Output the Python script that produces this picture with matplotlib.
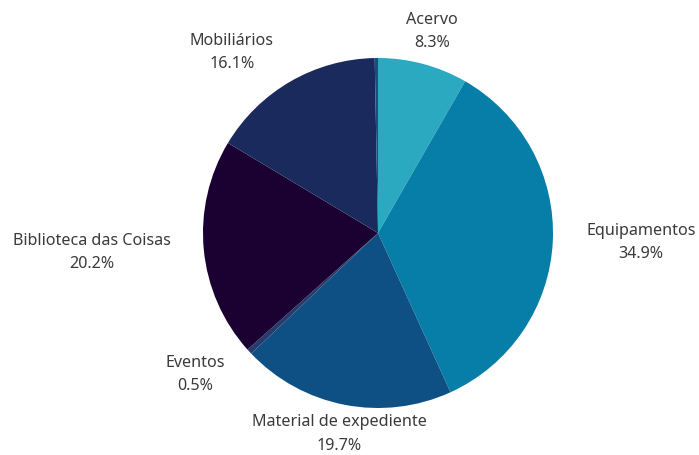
import numpy as np
import matplotlib
matplotlib.use("Agg")
import matplotlib.pyplot as plt

plt.rcParams['font.family'] = ['Noto Sans', 'DejaVu Sans']

labels = ["Acervo", "Equipamentos", "Material de expediente", "Eventos",
          "Biblioteca das Coisas", "Mobiliários", ""]
values = [8.3, 34.9, 19.7, 0.5, 20.2, 16.1, 0.3]
colors = ["#2ba9c0", "#077ea8", "#0e5083", "#263a6c", "#1b0032", "#1b2a5c", "#1f4a7e"]

fig = plt.figure(figsize=(6.99, 4.55), dpi=100)
ax = fig.add_axes([0, 0, 1, 1])
R = 175.0
cx, cy = 378, 233

wedges, _ = ax.pie(values, colors=colors, startangle=90, counterclock=False,
                   radius=1, wedgeprops=dict(linewidth=0))
ax.set_xlim(-cx / R, (699 - cx) / R)
ax.set_ylim(-(455 - cy) / R, cy / R)
ax.set_aspect("auto")
ax.axis("off")

total = sum(values)
cum = 0
for lab, v in zip(labels, values):
    mid = 90 - 360 * (cum + v / 2) / total
    cum += v
    if not lab:
        continue
    a = np.deg2rad(mid)
    r = 1.17 if np.sin(a) < -0.9 else 1.19
    x, y = r * np.cos(a), r * np.sin(a)
    c = np.cos(a)
    ha = "center" if abs(c) < 0.3 else ("left" if c > 0 else "right")
    ax.text(x, y, f"{lab}\n{v:.1f}%", ha=ha, va="center", multialignment="center",
            fontsize=11.6, color="#3a3a3a", linespacing=1.6)

fig.savefig("out.png", dpi=100)
